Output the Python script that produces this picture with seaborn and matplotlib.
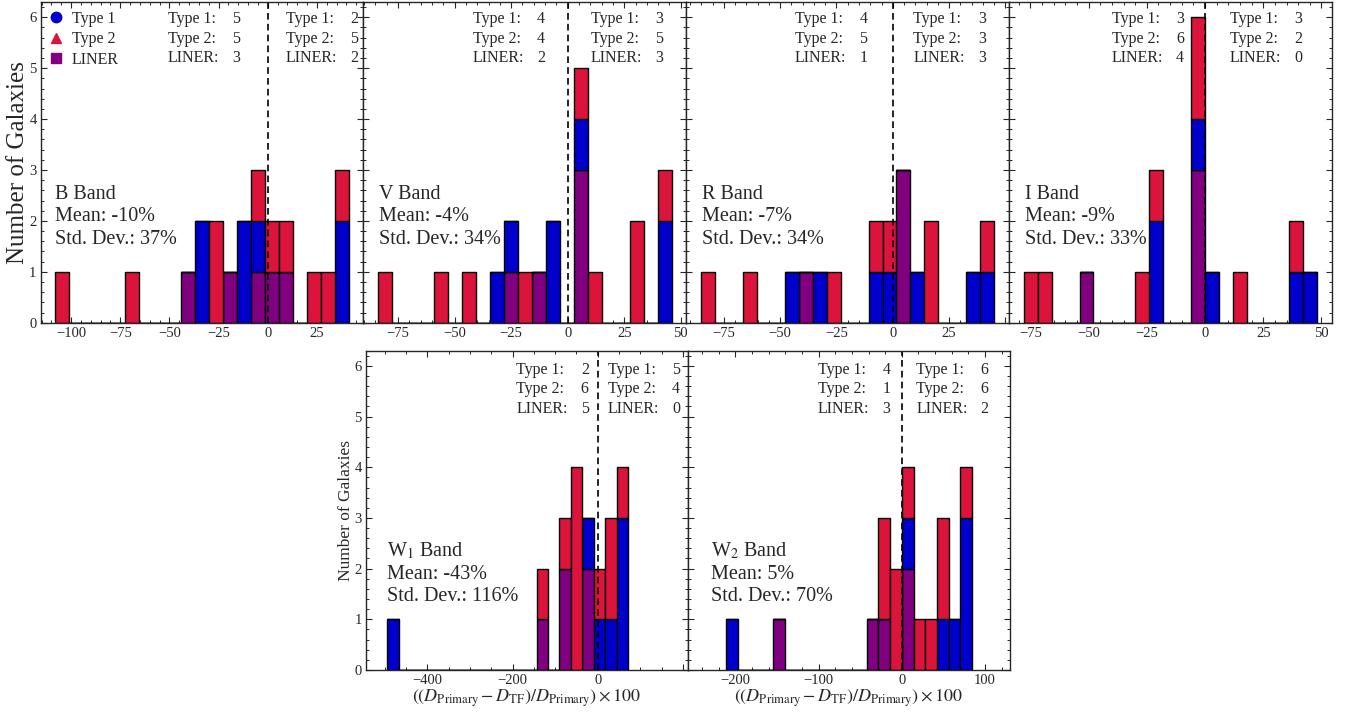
import numpy as np
import pandas as pd
import matplotlib
matplotlib.use("Agg")
import matplotlib.pyplot as plt
import seaborn as sns
from matplotlib.lines import Line2D
from matplotlib.ticker import MultipleLocator, AutoMinorLocator, FuncFormatter

# ---------------- data ----------------
band_names = ["B Band", "V Band", "R Band", "I Band", "W$_1$ Band", "W$_2$ Band"]
mean_pct = [-10, -4, -7, -9, -43, 5]
std_pct = [37, 34, 34, 33, 116, 70]

# histogram range (first / last bin edge) for each band, 21 bins each
bin_lo = [-108.0, -83.8, -85.2, -77.9, -493.6, -211.3]
bin_hi = [41.2, 45.9, 45.05, 48.1, 71.7, 84.5]
n_bins = 21

# counts per bin
B_type1 = [0, 0, 0, 0, 0, 0, 0, 0, 0, 0, 2, 0, 0, 2, 1, 0, 0, 0, 0, 0, 2]
B_type2 = [1, 0, 0, 0, 0, 1, 0, 0, 0, 0, 0, 2, 0, 0, 1, 1, 1, 0, 1, 1, 1]
B_liner = [0, 0, 0, 0, 0, 0, 0, 0, 0, 1, 0, 0, 1, 0, 1, 1, 1, 0, 0, 0, 0]

V_type1 = [0, 0, 0, 0, 0, 0, 0, 0, 1, 1, 0, 0, 2, 0, 1, 0, 0, 0, 0, 0, 2]
V_type2 = [1, 0, 0, 0, 1, 0, 1, 0, 0, 0, 1, 0, 0, 0, 1, 1, 0, 0, 2, 0, 1]
V_liner = [0, 0, 0, 0, 0, 0, 0, 0, 0, 1, 0, 1, 0, 0, 3, 0, 0, 0, 0, 0, 0]

R_type1 = [0, 0, 0, 0, 0, 0, 1, 0, 1, 0, 0, 0, 1, 1, 0, 1, 0, 0, 0, 1, 1]
R_type2 = [1, 0, 0, 1, 0, 0, 0, 0, 0, 1, 0, 0, 1, 1, 0, 0, 2, 0, 0, 0, 1]
R_liner = [0, 0, 0, 0, 0, 0, 0, 1, 0, 0, 0, 0, 0, 0, 3, 0, 0, 0, 0, 0, 0]

I_type1 = [0, 0, 0, 0, 0, 0, 0, 0, 0, 2, 0, 0, 1, 1, 0, 0, 0, 0, 0, 1, 1]
I_type2 = [1, 1, 0, 0, 0, 0, 0, 0, 1, 1, 0, 0, 2, 0, 0, 1, 0, 0, 0, 1, 0]
I_liner = [0, 0, 0, 0, 1, 0, 0, 0, 0, 0, 0, 0, 3, 0, 0, 0, 0, 0, 0, 0, 0]

W1_type1 = [1, 0, 0, 0, 0, 0, 0, 0, 0, 0, 0, 0, 0, 0, 0, 0, 0, 1, 1, 1, 3]
W1_type2 = [0, 0, 0, 0, 0, 0, 0, 0, 0, 0, 0, 0, 0, 1, 0, 1, 4, 0, 1, 2, 1]
W1_liner = [0, 0, 0, 0, 0, 0, 0, 0, 0, 0, 0, 0, 0, 1, 0, 2, 0, 2, 0, 0, 0]

W2_type1 = [1, 0, 0, 0, 0, 0, 0, 0, 0, 0, 0, 0, 0, 0, 0, 1, 0, 0, 1, 1, 3]
W2_type2 = [0, 0, 0, 0, 0, 0, 0, 0, 0, 0, 0, 0, 0, 2, 2, 1, 1, 1, 2, 0, 1]
W2_liner = [0, 0, 0, 0, 1, 0, 0, 0, 0, 0, 0, 0, 1, 1, 0, 2, 0, 0, 0, 0, 0]

type1_counts = [B_type1, V_type1, R_type1, I_type1, W1_type1, W2_type1]
type2_counts = [B_type2, V_type2, R_type2, I_type2, W1_type2, W2_type2]
liner_counts = [B_liner, V_liner, R_liner, I_liner, W1_liner, W2_liner]

# annotated counts (Type 1, Type 2, LINER) left / right of zero
left_counts = [(5, 5, 3), (4, 4, 2), (4, 5, 1), (3, 6, 4), (2, 6, 5), (4, 1, 3)]
right_counts = [(2, 5, 2), (3, 5, 3), (3, 3, 3), (3, 2, 0), (5, 4, 0), (6, 6, 2)]

categories = ["Type 1", "Type 2", "LINER"]
x_label = r"$((D_{\rm Primary} - D_{\rm TF})/D_{\rm Primary}) \times 100$"
y_label = "Number of Galaxies"

# x tick steps and labels hidden (overlap with the neighbouring panel)
major_step = [25, 25, 25, 25, 200, 100]
minor_div = [5, 5, 5, 5, 4, 5]
hidden_label = [None, None, 50, None, 200, None]

# ---------------- style ----------------
colors = {"Type 1": "#0000CD", "Type 2": "#DC143C", "LINER": "#800080"}
markers = {"Type 1": "o", "Type 2": "^", "LINER": "s"}

sns.set_style("ticks")
plt.rcParams.update({
    "font.family": ["Liberation Serif", "DejaVu Serif"],
    "mathtext.fontset": "stix",
    "xtick.direction": "in", "ytick.direction": "in",
    "xtick.top": True, "ytick.right": True,
    "xtick.minor.visible": True, "ytick.minor.visible": True,
    "xtick.major.size": 4.2, "ytick.major.size": 4.2,
    "xtick.minor.size": 2.2, "ytick.minor.size": 2.2,
    "xtick.major.width": 0.8, "ytick.major.width": 0.8,
    "xtick.minor.width": 0.7, "ytick.minor.width": 0.7,
    "axes.linewidth": 1.0,
    "xtick.labelsize": 10.5, "ytick.labelsize": 10.5,
    "axes.unicode_minus": True,
    "xtick.major.pad": 3, "ytick.major.pad": 3,
})

W, H = 1345, 713
fig = plt.figure(figsize=(W / 100, H / 100), dpi=100)

pw = 322.75
top_rects = [(40.7 + i * pw, 2.0, pw, 320.7) for i in range(4)]
bot_rects = [(366.0 + j * 322.0, 350.7, 322.0, 319.3) for j in range(2)]
rects = top_rects + bot_rects

count_left_x = [0.394, 0.338, 0.337, 0.318, 0.467, 0.404]
count_right_x = [0.760, 0.705, 0.704, 0.685, 0.750, 0.709]
count_y = [0.886] * 4 + [0.879] * 2
band_x = [0.045, 0.0486, 0.048, 0.0496, 0.064, 0.071]
band_y = [0.330] * 4 + [0.302] * 2
xlims = [None, None, None, None, (-544, 212), (-257, 130)]


def make_formatter(hidden):
    def fmt(v, pos):
        if hidden is not None and abs(v - hidden) < 1e-6:
            return ""
        s = f"{v:g}"
        return s.replace("-", "\u2212")
    return FuncFormatter(fmt)


for i, (x0, y0, w, h) in enumerate(rects):
    ax = fig.add_axes([x0 / W, 1 - (y0 + h) / H, w / W, h / H])
    edges = np.linspace(bin_lo[i], bin_hi[i], n_bins + 1)
    centers = 0.5 * (edges[:-1] + edges[1:])
    rows = []
    for cat, arr in zip(categories, [type1_counts[i], type2_counts[i], liner_counts[i]]):
        for c, n in zip(centers, arr):
            rows.append({"x": c, "w": n, "cat": cat})
    df = pd.DataFrame(rows)
    sns.histplot(data=df, x="x", weights="w", hue="cat",
                 hue_order=["Type 2", "Type 1", "LINER"], palette=colors,
                 bins=n_bins, binrange=(bin_lo[i], bin_hi[i]),
                 multiple="stack", element="bars", alpha=1.0,
                 edgecolor="black", linewidth=1.0, legend=False, ax=ax)
    ax.axvline(0, color="black", linestyle="--", linewidth=1.2, dashes=(4, 2.5))
    ax.set_ylim(0, 6.3)
    ax.yaxis.set_major_locator(MultipleLocator(1))
    ax.yaxis.set_minor_locator(AutoMinorLocator(5))
    ax.xaxis.set_major_locator(MultipleLocator(major_step[i]))
    ax.xaxis.set_minor_locator(AutoMinorLocator(minor_div[i]))
    ax.xaxis.set_major_formatter(make_formatter(hidden_label[i]))
    if xlims[i] is not None:
        ax.set_xlim(*xlims[i])
    ax.set_xlabel("")
    ax.set_ylabel("")
    if i not in (0, 4):
        ax.tick_params(axis="y", labelleft=False)
    if i == 0:
        ax.set_ylabel(y_label, fontsize=18, labelpad=0)
    if i == 4:
        ax.set_ylabel(y_label, fontsize=12.5, labelpad=0)
    if i >= 4:
        ax.set_xlabel(x_label, fontsize=13, labelpad=0)

    # band text
    ax.text(band_x[i], band_y[i],
            f"{band_names[i]}\nMean: {mean_pct[i]}%\nStd. Dev.: {std_pct[i]}%",
            transform=ax.transAxes, fontsize=14.5, ha="left", va="center",
            linespacing=1.25)
    # counts text
    lab = "Type 1:\nType 2:\nLINER:"
    for xx, cnt in ((count_left_x[i], left_counts[i]), (count_right_x[i], right_counts[i])):
        ax.text(xx, count_y[i], lab, transform=ax.transAxes, fontsize=11.5,
                ha="left", va="center", linespacing=1.28)
        ax.text(xx + 0.2, count_y[i], "\n".join(str(v) for v in cnt),
                transform=ax.transAxes, fontsize=11.5, ha="left", va="center",
                linespacing=1.28)

    if i == 0:
        handles = [Line2D([], [], linestyle="none", marker=markers[c], color=colors[c],
                          markersize=7.5, label=c) for c in categories]
        ax.legend(handles=handles, loc="upper left", frameon=False, fontsize=11.5,
                  handlelength=0.8, handletextpad=0.6, labelspacing=0.28,
                  borderaxespad=0.25, borderpad=0.3)

fig.savefig("out.png", dpi=100)
